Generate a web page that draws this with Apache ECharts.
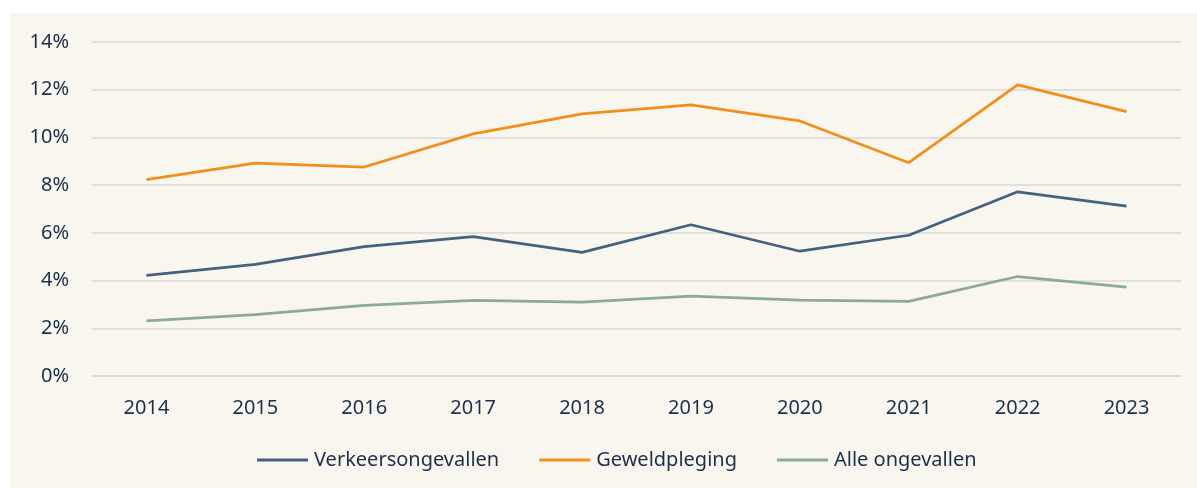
<!DOCTYPE html>
<html>
<head>
<meta charset="utf-8">
<script src="https://cdn.jsdelivr.net/npm/echarts@6/dist/echarts.min.js"></script>
<style>
html,body{margin:0;padding:0;background:#ffffff;}
#wrap{position:absolute;left:10px;top:13px;width:1187px;height:475px;}
</style>
</head>
<body>
<div id="wrap"></div>
<script>
const years = ['2014','2015','2016','2017','2018','2019','2020','2021','2022','2023'];
const verkeersongevallen = [4.22, 4.68, 5.42, 5.84, 5.18, 6.34, 5.23, 5.90, 7.72, 7.12];
const geweldpleging = [8.23, 8.92, 8.76, 10.15, 10.99, 11.36, 10.69, 8.94, 12.20, 11.08];
const alleOngevallen = [2.31, 2.57, 2.96, 3.17, 3.10, 3.35, 3.18, 3.13, 4.17, 3.73];
const seriesNames = ['Verkeersongevallen', 'Geweldpleging', 'Alle ongevallen'];

const textColor = '#1c2f4a';
const fontFamily = 'Noto Sans';
const chart = echarts.init(document.getElementById('wrap'), null, {renderer: 'canvas'});
chart.setOption({
  backgroundColor: '#f9f6ef',
  animation: false,
  textStyle: {fontFamily: fontFamily, color: textColor},
  grid: {left: 82, right: 16, top: 29, bottom: 112, containLabel: false},
  legend: {
    bottom: 13,
    left: 242,
    icon: 'rect',
    itemWidth: 51,
    itemHeight: 3,
    itemGap: 40,
    textStyle: {fontSize: 20, color: textColor, fontFamily: fontFamily, padding: [0, 0, 0, 1]},
    data: seriesNames
  },
  xAxis: {
    type: 'category',
    data: years,
    boundaryGap: true,
    axisLine: {show: true, lineStyle: {color: '#d9d9d9', width: 1.5}},
    axisTick: {show: false},
    axisLabel: {fontSize: 20, color: textColor, margin: 22}
  },
  yAxis: {
    type: 'value',
    min: 0, max: 14, interval: 2,
    axisLine: {show: false},
    axisTick: {show: false},
    axisLabel: {fontSize: 20, color: textColor, margin: 23, formatter: '{value}%'},
    splitLine: {lineStyle: {color: '#d9d9d9', width: 1.5}}
  },
  series: [
    {name: seriesNames[0], type: 'line', data: verkeersongevallen, showSymbol: false, symbol: 'none',
     lineStyle: {color: '#44617f', width: 2.75}, itemStyle: {color: '#44617f'}},
    {name: seriesNames[1], type: 'line', data: geweldpleging, showSymbol: false, symbol: 'none',
     lineStyle: {color: '#f28e1c', width: 2.75}, itemStyle: {color: '#f28e1c'}},
    {name: seriesNames[2], type: 'line', data: alleOngevallen, showSymbol: false, symbol: 'none',
     lineStyle: {color: '#8aab94', width: 2.75}, itemStyle: {color: '#8aab94'}}
  ]
});
</script>
</body>
</html>
